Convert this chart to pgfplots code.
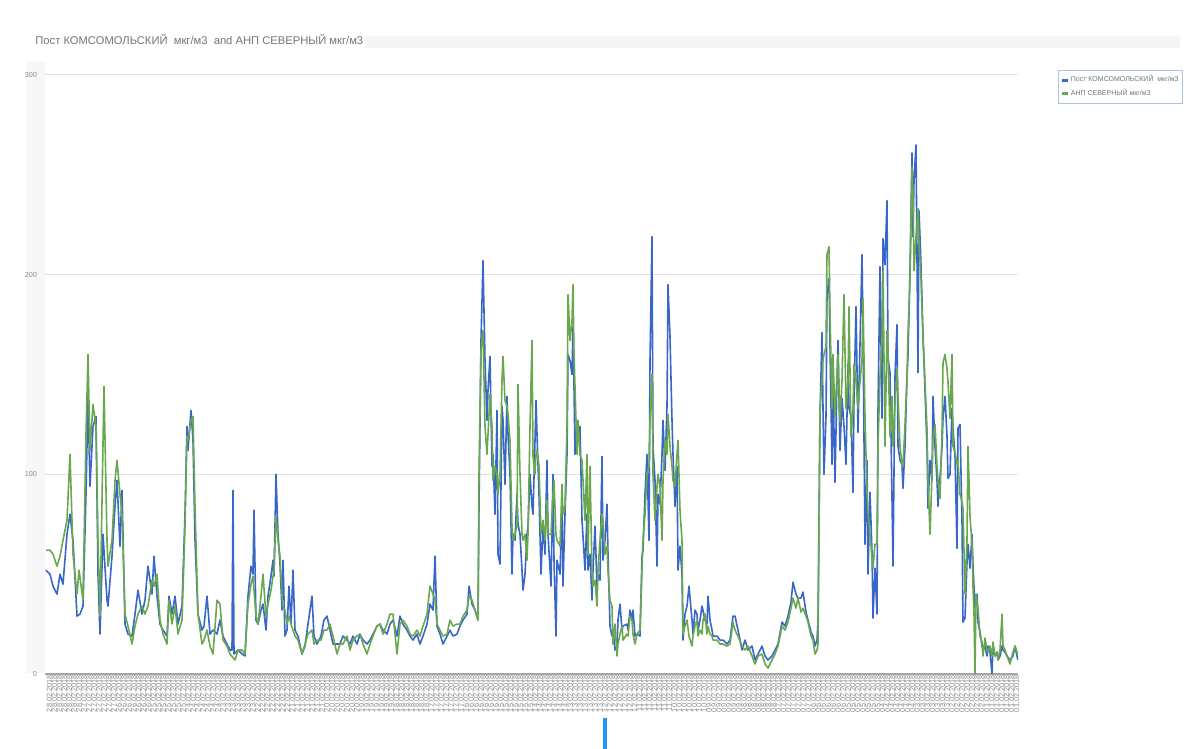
\documentclass[border=0pt]{standalone}
\usepackage{pgfplots}
\pgfplotsset{compat=1.18}
\usepackage{pgfplotstable}
\usepackage{fontspec}
\setmainfont{Liberation Sans}
\definecolor{serblue}{RGB}{57,103,199}
\definecolor{sergreen}{RGB}{106,168,79}
\definecolor{txtgray}{RGB}{117,117,117}
\definecolor{lblgray}{RGB}{140,140,140}
\definecolor{barblue}{RGB}{33,150,243}
\definecolor{legbord}{RGB}{170,196,230}

\pgfplotstableread{
x y
46 52
50 50
53 44
57 40
60 50
63 45
67 70
70 80
73 67
77 29
80 30
83 34
86 90
88 139
90 94
93 124
96 129
98 50
100 20
103 70
107 37
108 34
112 59
115 84
117 97
120 64
122 92
125 25
128 20
132 19
135 30
138 42
142 30
145 37
148 54
152 40
154 59
157 39
160 25
163 22
167 19
169 39
172 30
175 39
178 25
182 34
185 80
187 124
188 112
191 132
193 117
195 67
198 30
202 22
204 24
207 39
210 20
213 22
217 20
220 27
223 19
227 15
230 12
232 12
233 92
234 10
238 12
242 10
245 9
248 39
251 54
253 50
254 82
256 27
258 25
261 32
263 35
266 22
268 39
271 49
273 57
274 49
276 100
278 70
280 55
282 32
283 57
285 19
287 22
289 44
291 25
293 52
295 22
298 19
302 10
305 14
308 25
312 39
314 19
317 15
321 19
324 27
327 29
330 22
333 15
337 15
340 15
343 19
347 17
350 15
353 19
357 15
360 20
363 17
367 15
370 17
373 20
377 24
380 25
383 22
387 20
390 25
393 27
397 19
400 29
403 25
407 22
410 19
413 17
417 20
420 15
423 19
427 25
430 35
433 32
435 59
437 24
440 20
443 15
447 19
450 22
453 19
457 20
460 24
463 27
467 30
469 44
472 35
475 32
478 27
479 84
481 167
483 207
485 157
487 127
488 142
490 159
492 104
493 110
495 80
497 132
498 60
500 55
502 134
503 127
505 95
507 139
508 120
510 100
512 50
513 70
515 67
517 90
518 75
520 70
522 52
523 42
525 50
527 70
528 74
530 100
532 84
533 80
535 117
536 137
537 120
539 90
541 50
543 75
545 60
547 107
548 70
551 44
553 100
554 57
556 19
557 57
560 50
562 85
563 44
565 80
567 110
568 160
570 157
572 150
573 174
574 144
575 110
577 127
578 119
580 124
582 77
583 69
585 52
587 80
588 52
590 60
592 37
593 52
595 74
597 44
598 50
600 47
602 109
603 57
605 67
607 85
608 60
610 24
612 19
613 22
615 12
617 14
618 27
620 35
622 22
623 24
627 25
628 22
630 32
632 27
633 32
635 19
637 20
640 19
642 59
643 62
645 90
647 110
649 67
650 157
652 219
653 114
655 97
657 54
658 90
660 85
662 110
663 127
665 102
667 134
668 195
670 169
672 127
673 110
675 84
677 104
678 52
680 64
682 50
683 17
685 30
687 34
689 44
692 27
693 20
695 32
697 30
698 22
700 27
702 34
703 32
705 27
707 25
708 39
710 27
712 22
713 19
717 19
720 17
723 17
727 15
730 17
733 29
735 29
738 22
742 12
745 17
748 12
752 14
755 7
758 10
762 14
765 9
768 7
772 9
775 12
778 15
782 26
785 24
788 29
791 36
793 46
796 40
798 38
801 38
803 41
806 31
808 27
811 21
813 19
815 14
817 17
818 26
820 129
822 171
823 133
824 100
826 129
827 190
829 198
830 164
832 105
833 147
835 96
837 147
838 167
840 112
842 138
844 124
846 105
848 155
849 133
851 129
853 91
854 138
856 184
858 121
859 143
862 210
863 171
865 65
867 107
868 50
870 91
872 61
873 28
875 53
877 30
878 132
880 204
882 128
883 218
885 205
887 237
888 158
890 151
892 88
893 54
895 149
897 175
898 114
900 107
902 105
903 93
905 114
907 149
908 160
910 202
912 261
913 219
914 247
916 265
918 151
919 232
921 205
923 170
924 156
927 114
928 83
930 107
932 97
933 139
935 114
937 97
938 84
940 98
942 114
943 128
945 139
947 119
948 98
950 100
952 133
953 123
955 109
957 63
958 123
960 125
962 77
963 26
965 28
967 56
968 65
970 53
972 70
973 54
975 33
977 40
978 26
980 21
982 14
983 12
985 14
987 9
988 14
990 11
992 0
993 14
995 9
997 11
998 7
1000 9
1002 14
1003 12
1005 11
1007 9
1010 7
1013 9
1015 14
1017 9
1018 7
}\komso

\pgfplotstableread{
x y
46 62
50 62
53 60
57 54
60 59
63 67
67 77
70 110
73 60
77 40
79 52
83 37
86 120
88 160
90 112
93 135
96 124
98 67
100 29
104 144
107 67
108 54
112 67
115 97
117 107
120 90
122 80
125 30
128 24
132 15
135 24
138 30
142 34
145 30
148 34
152 47
154 44
157 50
160 27
163 20
167 15
169 37
172 25
175 34
178 20
182 27
185 74
187 119
188 117
191 127
193 129
195 84
198 30
202 15
204 17
207 22
210 14
213 10
217 37
220 35
223 17
227 14
230 10
235 7
238 12
242 12
245 10
248 35
251 45
253 49
254 42
256 29
258 25
261 39
263 50
266 29
268 35
271 42
273 49
274 52
276 79
278 67
280 59
282 39
283 34
285 32
287 25
289 29
291 25
293 22
295 19
298 17
302 10
305 15
308 20
312 22
314 15
317 17
321 17
324 22
327 22
330 25
333 19
337 10
340 15
343 15
347 19
350 12
353 17
357 19
360 20
363 15
367 10
370 15
373 19
377 24
380 25
383 20
387 25
390 30
393 30
397 10
400 25
403 27
407 24
410 20
413 19
417 22
420 19
423 24
427 30
430 44
433 40
435 37
437 25
440 22
443 19
447 20
450 27
453 24
457 25
460 25
463 29
467 32
469 39
472 37
475 32
478 27
479 100
481 162
483 172
485 124
487 110
488 120
490 140
492 124
493 97
495 104
497 100
498 90
500 100
502 147
503 159
505 137
507 134
508 130
510 117
512 74
513 67
515 70
517 74
518 145
520 100
522 70
523 67
525 70
527 57
528 70
530 124
532 167
533 109
535 100
536 110
537 112
539 104
541 70
543 77
545 67
547 87
548 70
551 70
553 90
554 97
556 70
557 67
560 64
562 95
563 80
565 84
567 124
568 190
570 167
572 177
573 195
574 160
575 144
577 110
578 127
580 110
582 107
583 97
585 77
587 110
588 60
590 104
592 52
593 44
595 47
597 34
598 52
600 67
602 80
603 77
605 60
607 64
608 52
610 37
612 34
613 15
615 25
617 9
618 15
620 20
622 24
623 17
627 20
628 19
630 29
632 27
633 20
635 15
637 20
640 22
642 52
643 67
645 80
647 100
649 104
650 127
652 150
653 100
655 77
657 94
658 100
660 94
662 67
663 97
665 117
667 110
668 130
670 114
672 104
673 97
675 94
677 110
678 117
680 82
682 67
683 20
685 24
687 27
689 19
692 14
693 19
695 24
697 27
698 19
700 22
702 20
703 27
705 30
707 20
708 24
710 20
712 19
713 17
717 17
720 15
723 15
727 14
730 15
733 26
735 22
738 19
742 14
745 12
748 14
752 9
755 5
758 9
762 10
765 5
768 3
772 7
775 10
778 14
782 24
785 22
788 26
791 33
793 38
796 33
798 38
801 31
803 33
806 29
808 26
811 19
813 17
815 10
817 12
818 15
820 133
822 147
823 157
824 160
826 164
827 210
829 214
830 181
832 133
833 160
835 129
837 150
838 160
840 126
842 147
844 190
846 133
848 147
849 184
851 119
853 133
854 155
856 147
858 133
859 141
862 157
863 188
865 129
867 91
868 81
870 70
872 58
873 53
875 65
877 65
878 114
880 149
882 167
883 202
885 114
887 172
888 163
890 119
892 139
893 114
895 135
897 153
898 139
900 114
902 105
903 104
905 125
907 149
908 170
910 198
912 254
913 240
914 202
916 219
918 233
919 216
921 198
923 167
924 158
927 123
928 97
930 70
932 100
933 118
935 125
937 104
938 97
940 88
942 121
943 156
945 160
947 153
948 146
950 128
952 160
953 114
955 111
957 105
958 107
960 90
962 86
963 83
965 40
967 67
968 114
970 79
972 65
973 44
974 30
975 0
976 40
978 33
980 19
982 16
983 9
985 18
987 12
988 11
990 14
992 9
993 16
995 9
997 11
998 7
1000 12
1002 30
1003 14
1005 12
1007 9
1010 5
1013 11
1015 14
1017 11
1018 9
}\sever

\begin{document}
\begin{tikzpicture}
% page and decorations (1 px = 0.5 pt)
\path[use as bounding box, fill=white] (0,0) rectangle (600pt,374.5pt);
\fill[black!3] (13pt,38pt) rectangle (22.5pt,344pt);
\fill[black!4] (182.5pt,350.5pt) rectangle (590pt,356.5pt);
\node[anchor=west, inner sep=0pt, text=txtgray, font=\fontsize{5.6}{6.5}\selectfont]
  at (17.5pt,354.5pt) {Пост КОМСОМОЛЬСКИЙ\ \ мкг/м3\ \ and АНП СЕВЕРНЫЙ мкг/м3};
\fill[barblue] (301.5pt,0pt) rectangle (303.5pt,15.5pt);
\begin{axis}[
  at={(22.5pt,37.5pt)}, anchor=south west,
  scale only axis, width=486.5pt, height=299.5pt,
  xmin=45, xmax=1018, ymin=0, ymax=300,
  axis line style={draw=none},
  major tick length=0pt,
  ytick={100,200,300},
  extra y ticks={0},
  extra y tick style={grid style={draw=black!35, line width=0.6pt}},
  ymajorgrids,
  grid style={draw=black!12, line width=0.5pt},
  /pgf/number format/assume math mode=true,
  yticklabel style={font=\fontsize{3.6}{4}\selectfont, text=lblgray, xshift=-0.5pt},
  xtick={47,51.96,...,1015},
  xticklabel={\pgfmathtruncatemacro{\dd}{28-floor(\ticknum/7)}\ifnum\dd<10 0\fi\dd.02.2018},
  xticklabel style={rotate=90, anchor=east, font=\fontsize{3.7}{3.9}\selectfont, text=lblgray, inner sep=0.3pt, yshift=-1.2pt},
  legend style={at={(1.041,1.008)}, anchor=north west, draw=legbord, line width=0.4pt,
    font=\fontsize{3.5}{4}\selectfont, text=txtgray, inner xsep=1.2pt, inner ysep=1.5pt, row sep=0pt,
    nodes={inner sep=1pt}},
  legend cell align=left,
  legend image code/.code={\draw[#1, line width=1.3pt] (0pt,0pt) -- (2.8pt,0pt);},
]
\addplot[serblue, line width=0.8pt, line join=round] table[x=x,y=y] {\komso};
\addlegendentry{Пост КОМСОМОЛЬСКИЙ\ \ мкг/м3}
\addplot[sergreen, line width=0.8pt, line join=round] table[x=x,y=y] {\sever};
\addlegendentry{АНП СЕВЕРНЫЙ мкг/м3}
\end{axis}
\end{tikzpicture}
\end{document}
